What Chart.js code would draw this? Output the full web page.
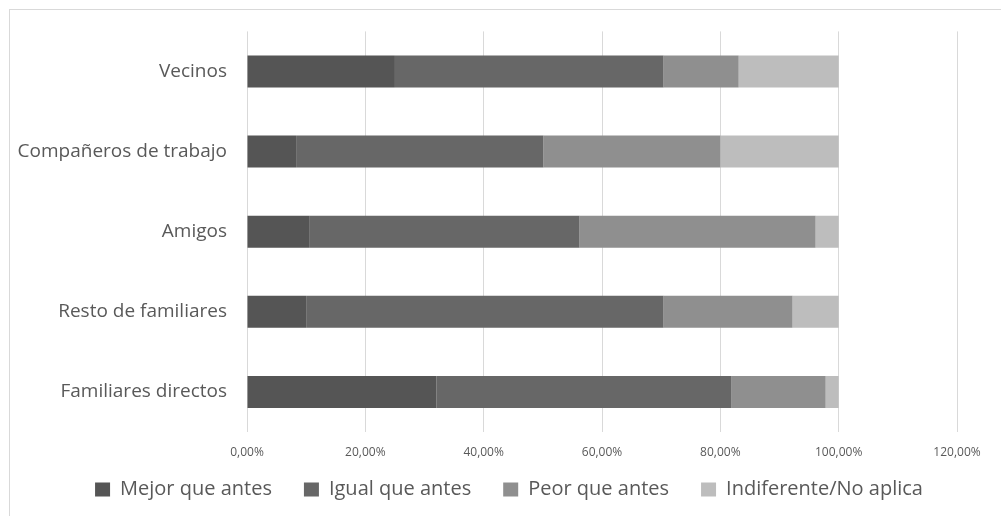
<!DOCTYPE html>
<html>
<head>
<meta charset="utf-8">
<script src="https://cdn.jsdelivr.net/npm/chart.js@4"></script>
<style>
  html, body { margin: 0; padding: 0; background: #fff; overflow: hidden; }
  #wrap { position: absolute; left: 0; top: 0; width: 1001px; height: 516px; overflow: hidden; }
  #frame { position: absolute; left: 9px; top: 9px; width: 1000px; height: 520px; border: 1px solid #d9d9d9; box-sizing: border-box; }
  canvas { position: absolute; left: 0; top: 0; }
</style>
</head>
<body>
<div id="wrap">
  <div id="frame"></div>
  <canvas id="c" width="1001" height="516"></canvas>
</div>
<script>
const categories = ["Vecinos", "Compañeros de trabajo", "Amigos", "Resto de familiares", "Familiares directos"];
const seriesNames = ["Mejor que antes", "Igual que antes", "Peor que antes", "Indiferente/No aplica"];
const mejor = [25.0, 8.3, 10.5, 10.0, 32.0];
const igual = [45.4, 41.8, 45.7, 60.4, 49.9];
const peor = [12.7, 29.9, 39.9, 21.8, 15.9];
const indiferente = [16.9, 20.0, 3.9, 7.8, 2.2];
const colors = ["#555555", "#676767", "#8f8f8f", "#bdbdbd"];
const xTicks = [0, 20, 40, 60, 80, 100, 120];

const allSeries = [mejor, igual, peor, indiferente];
const FONT = "'Open Sans', Lato, sans-serif";

// Legend: fixed height and a small offset so its items sit where the reference has them
const legendTweak = {
  id: 'legendTweak',
  afterInit(chart) {
    const lg = chart.legend;
    if (!lg) return;
    const f = lg.fit.bind(lg);
    lg.fit = function () { f(); this.height = 54; };
    const d = lg.draw.bind(lg);
    lg.draw = function (area) {
      const ctx = this.ctx;
      ctx.save();
      ctx.translate(30.5, -14.5);
      d(area);
      ctx.restore();
    };
  }
};

new Chart(document.getElementById('c'), {
  type: 'bar',
  data: {
    labels: categories,
    datasets: allSeries.map((vals, i) => ({
      label: seriesNames[i],
      data: vals,
      backgroundColor: colors[i],
      borderWidth: 0,
      barPercentage: 0.4,
      categoryPercentage: 1.0
    }))
  },
  plugins: [legendTweak],
  options: {
    indexAxis: 'y',
    responsive: false,
    devicePixelRatio: 1,
    animation: false,
    layout: { padding: { top: 27, right: 44, left: 0, bottom: 0 } },
    plugins: {
      tooltip: { enabled: false },
      legend: {
        position: 'bottom',
        labels: {
          font: { family: FONT, size: 20 },
          color: '#595959',
          boxWidth: 15,
          boxHeight: 14,
          padding: 32
        }
      }
    },
    scales: {
      x: {
        stacked: true,
        min: 0,
        max: 120,
        afterBuildTicks: (s) => { s.ticks = xTicks.map(v => ({ value: v })); },
        afterFit: (s) => { s.height = 30; },
        ticks: {
          font: { family: FONT, size: 12 },
          color: '#595959',
          padding: 13,
          callback: (v) => v.toFixed(2).replace('.', ',') + '%'
        },
        grid: { color: '#d9d9d9', drawTicks: false, lineWidth: 1 },
        border: { display: false }
      },
      y: {
        stacked: true,
        afterFit: (s) => { s.width = 247; },
        ticks: {
          font: { family: FONT, size: 19 },
          color: '#595959',
          padding: 20
        },
        grid: { display: false, drawTicks: false },
        border: { display: false }
      }
    }
  }
});
</script>
</body>
</html>
